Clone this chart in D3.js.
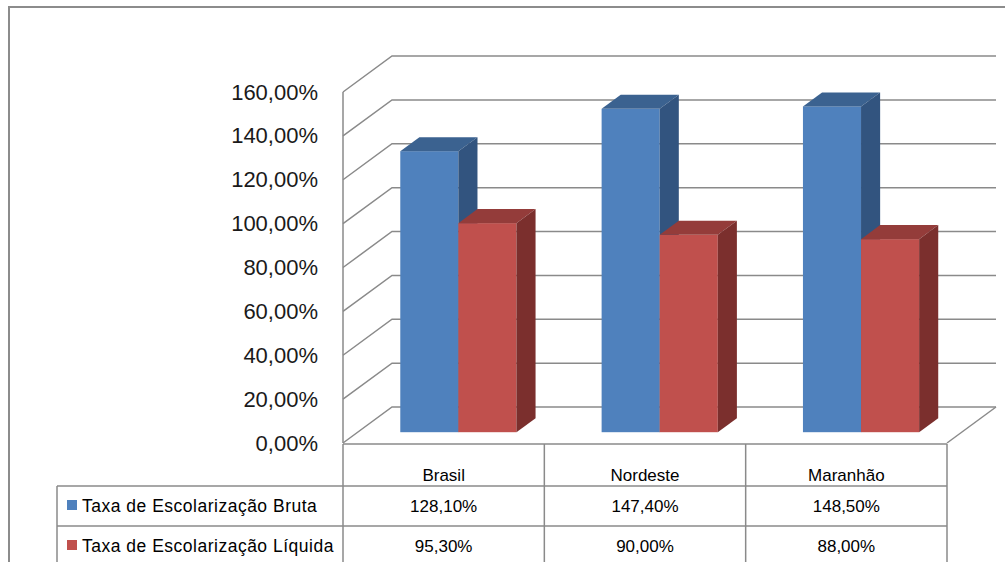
<!DOCTYPE html>
<html>
<head>
<meta charset="utf-8">
<script src="https://cdn.jsdelivr.net/npm/d3@7"></script>
<style>
	body { margin: 0; background: #fff; }
	svg { display: block; font-family: "Liberation Sans", Arial, sans-serif; }
</style>
</head>
<body>
<div id="chart"></div>
<script>
// Data
const categorias = ["Brasil", "Nordeste", "Maranhão"];
const series = ["Taxa de Escolarização Bruta", "Taxa de Escolarização Líquida"];
const taxaBruta = [128.1, 147.4, 148.5];
const taxaLiquida = [95.3, 90.0, 88.0];
const ticksY = [0, 20, 40, 60, 80, 100, 120, 140, 160];

const coresFrente = ["#4f81bd", "#c0504d"];
const coresTopo = ["#3b6290", "#943c3a"];
const coresLado = ["#32547f", "#7b2f2d"];

let _width = 1005,
	_height = 562,
	_x0 = 343, _x1 = 947,        // front plane
	_dx = 49, _dy = -36,         // depth of the box
	_zIni = 0.3, _zFim = 0.69;   // depth of the bars

const svg = d3.select("#chart").append("svg")
	.attr("width", _width).attr("height", _height);

const y = d3.scaleLinear().domain([0, 160]).range([443, 92]);
const x = d3.scaleBand().domain(categorias).range([_x0, _x1]).padding(0);
const grupo = x.bandwidth() * 0.577;
const xs = d3.scaleBand().domain(series).range([0, grupo]).padding(0);

// projects a point (x on front plane, value, depth 0..1)
function proj(px, v, z) {
	return [px + z * _dx, y(v) + z * _dy];
}

//-----------------------------------
// outer frame
svg.append("path")
	.attr("d", "M9," + _height + " L9,7 L" + _width + ",7")
	.attr("fill", "none").attr("stroke", "#8c8c8c").attr("stroke-width", 2);

//-----------------------------------
// walls and gridlines
const gGrid = svg.append("g").attr("fill", "none").attr("stroke", "#8a8a8a").attr("stroke-width", 1.5);

ticksY.forEach(function (t) {
	let a = proj(_x0, t, 0), b = proj(_x0, t, 1), c = proj(_x1, t, 1);
	gGrid.append("path").attr("d", "M" + a + " L" + b + " L" + c);
});
gGrid.append("line")
	.attr("x1", _x0).attr("x2", _x0).attr("y1", y(160)).attr("y2", y(0));
// floor right edge
let f1 = proj(_x1, 0, 0), f2 = proj(_x1, 0, 1);
gGrid.append("path").attr("d", "M" + f1 + " L" + f2);

// y axis labels
const fmt = d3.format(".2f");
const eixo = d3.axisLeft(y).tickValues(ticksY)
	.tickFormat(d => fmt(d).replace(".", ",") + "%")
	.tickSize(0).tickPadding(25);
const gEixo = svg.append("g").attr("transform", "translate(" + _x0 + ",0)").call(eixo);
gEixo.select(".domain").remove();
gEixo.selectAll("text").attr("font-size", 22).attr("fill", "#1a1a1a")
	.attr("font-family", "Liberation Sans, Arial, sans-serif");

//-----------------------------------
// 3D bars
const gBarras = svg.append("g");
const valores = [taxaBruta, taxaLiquida];

function poligono(pts) {
	return "M" + pts.map(p => p.join(",")).join(" L") + " Z";
}

categorias.forEach(function (cat, i) {
	let centro = x(cat) + x.bandwidth() / 2 - grupo / 2;
	series.forEach(function (s, j) {
		let v = valores[j][i];
		let xl = centro + xs(s), xr = xl + xs.bandwidth();
		let fa = proj(xl, v, _zIni), fb = proj(xr, 0, _zIni);
		// front face
		gBarras.append("rect")
			.attr("x", fa[0]).attr("y", fa[1])
			.attr("width", fb[0] - fa[0]).attr("height", fb[1] - fa[1])
			.attr("fill", coresFrente[j]);
		// top face
		gBarras.append("path")
			.attr("d", poligono([proj(xl, v, _zIni), proj(xr, v, _zIni), proj(xr, v, _zFim), proj(xl, v, _zFim)]))
			.attr("fill", coresTopo[j]);
		// side face
		gBarras.append("path")
			.attr("d", poligono([proj(xr, v, _zIni), proj(xr, v, _zFim), proj(xr, 0, _zFim), proj(xr, 0, _zIni)]))
			.attr("fill", coresLado[j]);
	});
});

//-----------------------------------
// data table
const gTab = svg.append("g").attr("stroke", "#8a8a8a").attr("stroke-width", 1.5).attr("fill", "none");
const linhas = [444, 486, 526, 566];
const xLeg = 57;

gTab.append("line").attr("x1", _x0).attr("x2", _x1).attr("y1", linhas[0]).attr("y2", linhas[0]);
gTab.append("line").attr("x1", xLeg).attr("x2", _x1).attr("y1", linhas[1]).attr("y2", linhas[1]);
gTab.append("line").attr("x1", xLeg).attr("x2", _x1).attr("y1", linhas[2]).attr("y2", linhas[2]);
gTab.append("line").attr("x1", xLeg).attr("x2", xLeg).attr("y1", linhas[1]).attr("y2", _height);
gTab.append("line").attr("x1", _x0).attr("x2", _x0).attr("y1", linhas[0]).attr("y2", _height);
categorias.forEach(function (cat) {
	let xc = x(cat) + x.bandwidth();
	gTab.append("line").attr("x1", xc).attr("x2", xc).attr("y1", linhas[0]).attr("y2", _height);
});

const gTxt = svg.append("g").attr("fill", "#000").attr("text-anchor", "middle");
categorias.forEach(function (cat, i) {
	let xc = x(cat) + x.bandwidth() / 2;
	gTxt.append("text").attr("x", xc).attr("y", 481).attr("font-size", 17).text(cat);
	gTxt.append("text").attr("x", xc).attr("y", 512).attr("font-size", 17)
		.text(fmt(taxaBruta[i]).replace(".", ",") + "%");
	gTxt.append("text").attr("x", xc).attr("y", 552).attr("font-size", 17)
		.text(fmt(taxaLiquida[i]).replace(".", ",") + "%");
});

// legend inside the table
series.forEach(function (s, j) {
	let yc = (linhas[j + 1] + linhas[j + 2]) / 2;
	svg.append("rect").attr("x", 67).attr("y", yc - 6).attr("width", 10).attr("height", 10)
		.attr("fill", coresFrente[j]);
	svg.append("text").attr("x", 82).attr("y", yc + 6).attr("font-size", 17.5)
		.attr("letter-spacing", 0.5).attr("fill", "#000").text(s);
});
</script>
</body>
</html>
